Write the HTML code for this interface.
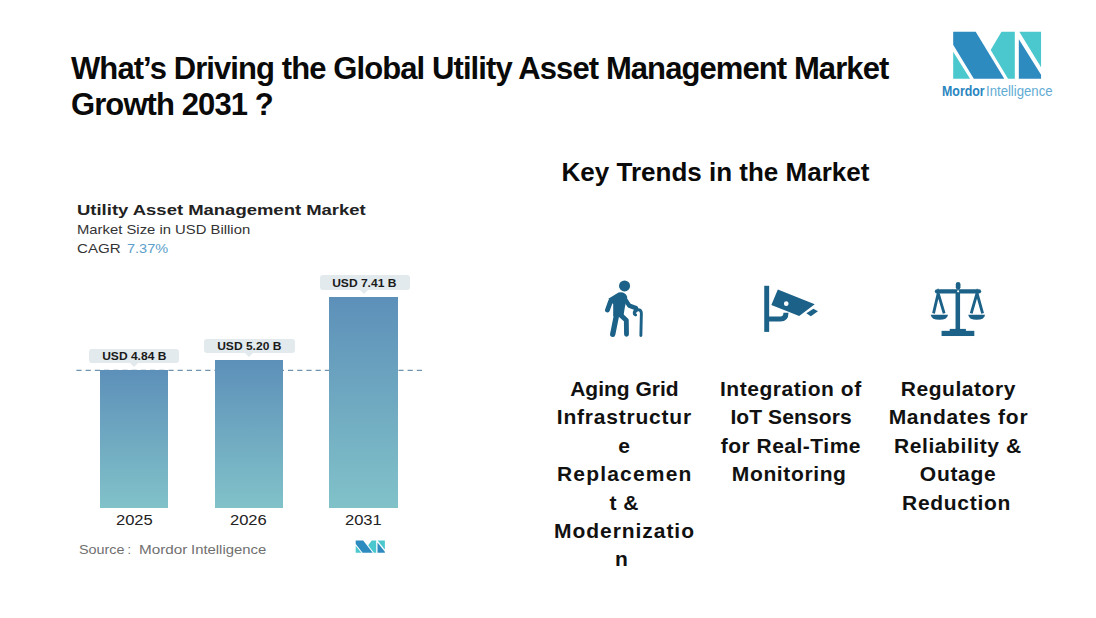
<!DOCTYPE html>
<html><head><meta charset="utf-8">
<style>
html,body{margin:0;padding:0;background:#fff;}
body{width:1096px;height:618px;position:relative;overflow:hidden;font-family:"Liberation Sans",sans-serif;color:#000;}
.a{position:absolute;white-space:nowrap;}
.sx{position:absolute;white-space:nowrap;transform-origin:0 0;}
.title{left:71px;top:51px;font-weight:bold;font-size:31px;letter-spacing:-0.91px;line-height:36px;color:#0a0a0a;}
.kt{left:561.6px;top:157px;font-weight:bold;font-size:26px;line-height:30px;color:#0a0a0a;}
.tl{position:absolute;width:200px;text-align:center;font-weight:bold;font-size:21px;line-height:28px;height:28px;color:#111;white-space:nowrap;}
.bar{position:absolute;background:linear-gradient(#5d90b9,#81c2c9);}
.lab{position:absolute;height:14.4px;background:#e2eaee;border-radius:3px;}
.lab:after{content:"";position:absolute;left:50%;margin-left:-4.5px;bottom:-4px;border-left:4.5px solid transparent;border-right:4.5px solid transparent;border-top:4px solid #e2eaee;}
.lt{position:absolute;width:120px;text-align:center;font-weight:bold;font-size:10.6px;line-height:12px;color:#1a1a1a;}
.lt span,.yr span{display:inline-block;}
.yr{position:absolute;width:80px;text-align:center;font-size:13.8px;line-height:16px;color:#222;}
</style></head><body>
<div class="a title">What’s Driving the Global Utility Asset Management Market<br>Growth 2031 ?</div>
<svg class="a" style="left:948px;top:26px" width="100" height="58" viewBox="0 0 1066 618"><polygon fill="#2e8bc0" points="55,62 295,62 600,562 275,562 55,200"/>
<polygon fill="#4ac8ce" points="55,275 55,562 235,562"/>
<polygon fill="#4ac8ce" points="570,62 712,62 712,562 640,562 455,255"/>
<polygon fill="#4ac8ce" points="760,62 992,62 992,440"/>
<polygon fill="#2e8bc0" points="755,140 755,562 992,562 992,520"/></svg>
<div class="sx" style="left:942px;top:82.7px;font-size:14px;line-height:16px;font-weight:bold;color:#2a86bf;transform:scaleX(0.885)">Mordor</div>
<div class="sx" style="left:985.8px;top:82.7px;font-size:14px;line-height:16px;color:#62acd4;transform:scaleX(0.94)">Intelligence</div>
<div class="sx" style="left:77px;top:201px;font-weight:bold;font-size:15.4px;line-height:17px;color:#222;transform:scaleX(1.2)">Utility Asset Management Market</div>
<div class="sx" style="left:77px;top:223px;font-size:12.6px;line-height:15px;color:#333;transform:scaleX(1.178)">Market Size in USD Billion</div>
<div class="sx" style="left:77px;top:241.5px;font-size:12.6px;line-height:15px;color:#333;transform:scaleX(1.2)">CAGR</div>
<div class="sx" style="left:126.5px;top:241.5px;font-size:12.6px;line-height:15px;color:#5b9ec9;transform:scaleX(1.15)">7.37%</div>
<svg class="a" style="left:0;top:360px" width="440" height="20"><line x1="76.4" y1="10.4" x2="423" y2="10.4" stroke="#7293ad" stroke-width="1.3" stroke-dasharray="5.2 4"/></svg>
<div class="bar" style="left:100px;top:370px;width:68px;height:138px;"></div>
<div class="bar" style="left:214.5px;top:360px;width:68.5px;height:148px;"></div>
<div class="bar" style="left:329px;top:297px;width:69px;height:211px;"></div>
<div class="lab" style="left:89px;top:348.7px;width:90px;"></div>
<div class="lt" style="left:74.0px;top:350px;"><span style="transform:scaleX(1.135)">USD 4.84 B</span></div>
<div class="lab" style="left:204px;top:338.6px;width:91px;"></div>
<div class="lt" style="left:189.5px;top:340px;"><span style="transform:scaleX(1.135)">USD 5.20 B</span></div>
<div class="lab" style="left:319.5px;top:275.3px;width:90.5px;"></div>
<div class="lt" style="left:304.75px;top:277px;"><span style="transform:scaleX(1.135)">USD 7.41 B</span></div>
<div class="yr" style="left:94.19999999999999px;top:513px;"><span style="transform:scaleX(1.2)">2025</span></div>
<div class="yr" style="left:208.8px;top:513px;"><span style="transform:scaleX(1.2)">2026</span></div>
<div class="yr" style="left:323.1px;top:513px;"><span style="transform:scaleX(1.2)">2031</span></div>
<div class="sx" style="left:78.7px;top:542.8px;font-size:12.4px;line-height:14px;color:#707070;transform:scaleX(1.16)">Source</div>
<div class="sx" style="left:127.6px;top:542.8px;font-size:12.4px;line-height:14px;color:#707070;transform:scaleX(1)">:</div>
<div class="sx" style="left:139px;top:542.8px;font-size:12.4px;line-height:14px;color:#707070;transform:scaleX(1.23)">Mordor</div>
<div class="sx" style="left:190.8px;top:542.8px;font-size:12.4px;line-height:14px;color:#707070;transform:scaleX(1.2)">Intelligence</div>
<svg class="a" style="left:354.1px;top:539.4px" width="33.2" height="15.1" viewBox="0 0 1066 618" preserveAspectRatio="none"><polygon fill="#2e8bc0" points="55,62 295,62 600,562 275,562 55,200"/>
<polygon fill="#4ac8ce" points="55,275 55,562 235,562"/>
<polygon fill="#4ac8ce" points="570,62 712,62 712,562 640,562 455,255"/>
<polygon fill="#4ac8ce" points="760,62 992,62 992,440"/>
<polygon fill="#2e8bc0" points="755,140 755,562 992,562 992,520"/></svg>
<div class="a kt">Key Trends in the Market</div>
<div class="tl" style="left:524.40px;top:375.0px;letter-spacing:0px">Aging Grid</div>
<div class="tl" style="left:524.39px;top:403.4px;letter-spacing:0.79px">Infrastructur</div>
<div class="tl" style="left:524.00px;top:431.8px;letter-spacing:0px">e</div>
<div class="tl" style="left:524.80px;top:460.2px;letter-spacing:1.2px">Replacemen</div>
<div class="tl" style="left:524.25px;top:488.6px;letter-spacing:0.5px">t &amp;</div>
<div class="tl" style="left:524.48px;top:517.0px;letter-spacing:0.95px">Modernizatio</div>
<div class="tl" style="left:521.50px;top:545.4px;letter-spacing:0px">n</div>
<div class="tl" style="left:690.87px;top:375.0px;letter-spacing:0.55px">Integration of</div>
<div class="tl" style="left:691.05px;top:403.4px;letter-spacing:0.1px">IoT Sensors</div>
<div class="tl" style="left:690.85px;top:431.8px;letter-spacing:0.5px">for Real-Time</div>
<div class="tl" style="left:689.21px;top:460.2px;letter-spacing:0.62px">Monitoring</div>
<div class="tl" style="left:858.36px;top:375.0px;letter-spacing:0.53px">Regulatory</div>
<div class="tl" style="left:858.47px;top:403.4px;letter-spacing:0.75px">Mandates for</div>
<div class="tl" style="left:857.89px;top:431.8px;letter-spacing:0.58px">Reliability &amp;</div>
<div class="tl" style="left:858.15px;top:460.2px;letter-spacing:0.7px">Outage</div>
<div class="tl" style="left:856.55px;top:488.6px;letter-spacing:0.71px">Reduction</div>
<svg class="a" style="left:603px;top:278px" width="44" height="60" viewBox="0 0 453 618">
<g fill="#1c6187" stroke="#1c6187" stroke-linecap="round" stroke-linejoin="round">
<circle cx="222" cy="82" r="57" stroke="none"/>
<path d="M78,240 L46,330" stroke-width="50" fill="none"/>
<path d="M55,215 L160,150 Q225,135 250,195 L225,300 L210,395 L105,395 L105,270 Z" stroke="none"/>
<path d="M140,380 L100,580" stroke-width="55" fill="none"/>
<path d="M185,385 L240,435 L242,580" stroke-width="50" fill="none"/>
<path d="M215,200 L270,285 L340,310" stroke-width="45" fill="none"/>
<path d="M342,310 L322,355 Q320,376 336,380" stroke-width="30" fill="none"/>
<path d="M335,345 Q350,322 375,328 Q395,338 395,365 L390,592" stroke-width="30" fill="none"/>
</g></svg>
<svg class="a" style="left:750px;top:270px" width="80" height="80" viewBox="0 0 618 618">
<g fill="#1c6187">
<rect x="110" y="122" width="38" height="356"/>
<path d="M140,379 L235,379 Q278,379 278,330" stroke="#1c6187" stroke-width="39" fill="none"/>
<path fill-rule="evenodd" d="M215,150 L500,265 L380,355 L165,270 Z M298,260 A18,18 0 1 0 262,260 A18,18 0 1 0 298,260 Z"/>
<polygon points="435,335 490,300 525,318 470,358"/>
</g></svg>
<svg class="a" style="left:918px;top:270px" width="80" height="80" viewBox="0 0 618 618">
<g fill="#1c6187" stroke="#1c6187">
<rect x="292" y="92" width="36" height="60" rx="18" stroke="none"/>
<rect x="130" y="148" width="358" height="34" rx="17" stroke="none"/>
<rect x="290" y="160" width="35" height="310" stroke="none"/>
<rect x="245" y="455" width="125" height="25" stroke="none"/>
<rect x="182" y="470" width="253" height="40" stroke="none"/>
<path d="M120,335 L156,180 L202,335" stroke-width="22" fill="none"/>
<path d="M411,335 L456,180 L499,335" stroke-width="22" fill="none"/>
<path d="M98,345 L232,345 Q225,385 165,385 Q105,385 98,345 Z" stroke="none"/>
<path d="M388,345 L518,345 Q512,385 453,385 Q395,385 388,345 Z" stroke="none"/>
</g><circle cx="310" cy="165" r="8" fill="#fff"/></svg>
</body></html>
